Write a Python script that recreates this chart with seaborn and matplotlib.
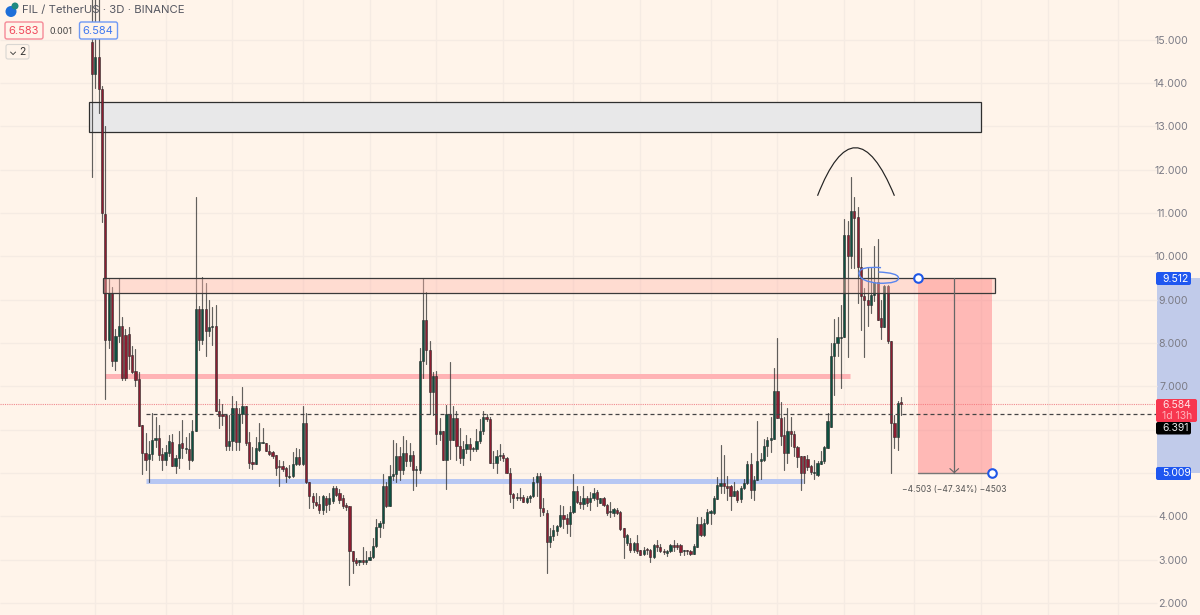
import matplotlib
matplotlib.use("Agg")
import matplotlib.pyplot as plt
import pandas as pd
import seaborn as sns
from matplotlib.patches import Circle, FancyBboxPatch, PathPatch, Rectangle
from matplotlib.path import Path
from matplotlib.transforms import Affine2D

BG = "#fff4ea"
RED = "#8c1d31"
GREEN = "#0e5040"

opens = [
    14.96, 14.21, 14.61, 13.86, 10.99, 8.08, 9.15, 7.59, 8.17, 8.4,
    8.19, 8.21, 7.73, 7.36, 7.17, 6.1, 5.46, 5.33, 5.44, 5.77,
    5.8, 5.44, 5.3, 5.46, 5.71, 5.17, 5.35, 5.69, 5.56, 5.55,
    5.3, 5.96, 8.78, 8.06, 8.78, 8.27, 8.37, 8.4, 6.44, 6.36,
    6.34, 5.62, 5.73, 6.5, 5.71, 6.37, 6.55, 5.71, 5.25, 5.2,
    5.53, 5.69, 5.68, 5.51, 5.48, 5.42, 5.17, 5.17, 5.11, 4.9,
    4.92, 5.2, 5.37, 5.2, 6.15, 4.78, 4.46, 4.32, 4.29, 4.15,
    4.42, 4.29, 4.35, 4.65, 4.54, 4.42, 4.27, 4.23, 3.19, 2.98,
    2.94, 2.98, 2.94, 3.0, 3.07, 3.32, 3.75, 3.84, 4.69, 4.23,
    4.94, 4.98, 5.38, 5.07, 5.46, 5.28, 5.42, 5.06, 5.07, 7.59,
    8.52, 7.83, 6.88, 7.23, 5.9, 5.96, 5.29, 6.37, 5.77, 6.27,
    5.63, 5.34, 5.55, 5.66, 5.55, 5.55, 5.74, 5.96, 6.3, 6.25,
    5.23, 5.23, 5.38, 5.42, 5.34, 5.01, 4.52, 4.42, 4.44, 4.44,
    4.34, 4.42, 4.46, 4.8, 4.94, 4.19, 4.07, 3.4, 3.54, 3.67,
    3.78, 4.04, 3.96, 3.82, 4.1, 4.59, 4.32, 4.29, 4.42, 4.32,
    4.41, 4.56, 4.3, 4.42, 4.27, 4.09, 4.07, 4.15, 4.1, 3.74,
    3.38, 3.38, 3.21, 3.38, 3.21, 3.13, 3.24, 3.23, 3.06, 3.34,
    3.3, 3.2, 3.15, 3.19, 3.34, 3.33, 3.33, 3.19, 3.21, 3.2,
    3.13, 3.3, 3.83, 3.57, 3.84, 4.07, 4.07, 4.4, 4.71, 4.77,
    4.71, 4.69, 4.46, 4.59, 4.4, 4.65, 4.77, 5.21, 4.6, 4.84,
    5.27, 5.3, 5.63, 5.75, 5.78, 6.9, 6.26, 5.88, 5.47, 5.96,
    5.9, 5.6, 5.38, 5.38, 5.32, 5.15, 5.0, 4.96, 5.21, 5.27,
    5.57, 6.06, 7.71, 8.0, 8.11, 8.15, 10.5, 10.02, 11.05, 10.9,
    9.75, 9.08, 9.0, 8.88, 9.11, 9.42, 8.58, 8.37, 9.31, 8.04,
    6.15, 5.83, 6.63,
]
closes = [
    14.21, 14.61, 13.86, 11.0, 8.08, 9.15, 7.59, 8.17, 8.4, 7.2,
    7.2, 7.7, 7.33, 7.15, 6.08, 5.46, 5.3, 5.44, 5.77, 5.8,
    5.42, 5.3, 5.48, 5.73, 5.17, 5.35, 5.67, 5.57, 5.58, 5.3,
    5.96, 8.78, 8.08, 8.78, 8.27, 8.37, 8.4, 6.44, 6.32, 6.32,
    5.62, 5.73, 6.5, 5.71, 6.37, 6.55, 5.69, 5.24, 5.2, 5.57,
    5.71, 5.71, 5.5, 5.44, 5.4, 5.11, 5.13, 5.09, 4.92, 4.94,
    5.2, 5.37, 5.2, 6.15, 4.78, 4.46, 4.32, 4.27, 4.15, 4.46,
    4.27, 4.42, 4.65, 4.5, 4.38, 4.24, 4.21, 3.19, 2.96, 2.92,
    2.98, 2.94, 3.0, 3.07, 3.32, 3.75, 3.84, 4.69, 4.23, 4.94,
    4.98, 5.38, 5.07, 5.46, 5.28, 5.42, 5.07, 5.09, 7.59, 8.52,
    7.83, 6.88, 7.24, 5.9, 5.96, 5.29, 6.37, 5.77, 6.27, 5.63,
    5.34, 5.55, 5.66, 5.55, 5.58, 5.74, 5.96, 6.3, 6.24, 5.23,
    5.24, 5.38, 5.42, 5.34, 5.0, 4.52, 4.42, 4.44, 4.42, 4.34,
    4.42, 4.47, 4.8, 4.94, 4.19, 4.09, 3.4, 3.54, 3.69, 3.78,
    4.04, 3.94, 3.82, 4.1, 4.59, 4.32, 4.29, 4.42, 4.3, 4.43,
    4.54, 4.4, 4.42, 4.27, 4.08, 4.11, 4.16, 4.07, 3.71, 3.53,
    3.56, 3.21, 3.38, 3.19, 3.11, 3.23, 3.21, 3.06, 3.34, 3.3,
    3.19, 3.18, 3.19, 3.34, 3.28, 3.28, 3.17, 3.21, 3.19, 3.13,
    3.32, 3.83, 3.57, 3.84, 4.09, 4.11, 4.42, 4.73, 4.77, 4.71,
    4.66, 4.46, 4.59, 4.38, 4.66, 4.77, 5.21, 4.6, 4.84, 5.27,
    5.32, 5.63, 5.75, 5.8, 6.9, 6.26, 5.86, 5.47, 5.96, 5.9,
    5.6, 5.36, 5.0, 5.0, 5.13, 5.02, 5.02, 5.23, 5.28, 5.59,
    6.2, 7.7, 8.0, 8.13, 8.15, 10.5, 10.02, 11.05, 10.88, 9.75,
    9.08, 9.0, 8.88, 9.11, 9.42, 8.54, 8.38, 9.31, 8.04, 6.15,
    5.83, 6.62, 6.584,
]
highs = [
    16.5, 16.2, 16.1, 13.94, 13.0, 9.47, 9.3, 8.33, 9.5, 8.6,
    8.32, 8.36, 7.92, 7.87, 7.33, 6.1, 5.92, 5.73, 6.38, 6.3,
    6.11, 5.57, 5.65, 5.88, 5.9, 5.42, 5.96, 6.23, 5.84, 5.92,
    6.23, 11.38, 8.85, 9.53, 9.38, 9.0, 8.83, 8.88, 6.7, 6.6,
    6.34, 6.34, 6.78, 6.65, 6.5, 6.98, 6.55, 5.94, 5.61, 5.84,
    6.15, 6.04, 5.69, 5.65, 5.5, 5.42, 5.3, 5.27, 5.14, 5.19,
    5.48, 5.58, 5.55, 6.55, 6.38, 4.78, 4.54, 4.54, 4.46, 4.5,
    4.46, 4.54, 4.69, 4.71, 4.63, 4.5, 4.3, 4.23, 3.19, 3.03,
    3.0, 3.3, 3.19, 3.19, 3.5, 3.94, 3.88, 4.98, 4.8, 5.19,
    5.77, 5.69, 5.61, 5.86, 5.77, 5.7, 5.51, 5.15, 7.88, 9.5,
    9.17, 8.04, 7.34, 7.36, 6.27, 5.96, 6.57, 7.57, 6.55, 6.44,
    6.04, 5.73, 5.88, 5.8, 5.61, 6.01, 6.24, 6.42, 6.37, 6.3,
    5.5, 5.54, 5.67, 5.46, 5.36, 5.11, 4.54, 4.54, 4.65, 4.5,
    4.46, 4.5, 4.9, 5.01, 5.0, 4.42, 4.15, 3.73, 3.8, 3.8,
    4.27, 4.24, 4.06, 4.24, 4.98, 4.69, 4.46, 4.71, 4.46, 4.57,
    4.65, 4.61, 4.42, 4.44, 4.29, 4.34, 4.2, 4.2, 4.12, 3.74,
    3.58, 3.5, 3.4, 3.57, 3.23, 3.3, 3.26, 3.24, 3.36, 3.45,
    3.36, 3.25, 3.22, 3.36, 3.45, 3.38, 3.36, 3.23, 3.23, 3.22,
    3.36, 3.99, 3.98, 3.93, 4.17, 4.15, 4.47, 4.9, 5.65, 5.42,
    4.92, 4.73, 4.8, 4.61, 4.71, 4.86, 5.27, 5.46, 4.92, 6.19,
    5.46, 5.78, 5.84, 6.3, 7.43, 8.11, 6.63, 6.3, 6.5, 6.3,
    5.96, 5.63, 5.39, 5.38, 5.42, 5.19, 5.3, 5.27, 5.51, 5.63,
    6.38, 8.0, 8.55, 8.61, 8.87, 10.87, 10.81, 11.84, 11.38, 11.15,
    10.2, 9.27, 9.73, 9.73, 10.24, 10.4, 9.0, 9.35, 9.35, 8.04,
    6.34, 6.65, 6.75,
]
lows = [
    11.84, 13.88, 13.3, 10.8, 6.71, 7.88, 7.47, 7.38, 8.02, 7.15,
    7.15, 7.4, 7.3, 7.0, 6.08, 4.98, 5.07, 4.8, 5.3, 5.61,
    5.3, 5.07, 5.19, 5.38, 5.15, 5.0, 5.11, 5.34, 5.46, 5.09,
    5.27, 5.96, 7.84, 7.98, 7.7, 8.17, 7.96, 6.42, 6.04, 6.11,
    5.54, 5.54, 5.52, 5.54, 5.52, 6.15, 5.65, 5.11, 5.09, 5.2,
    5.5, 5.69, 5.5, 5.42, 5.34, 4.96, 4.7, 5.04, 4.8, 4.88,
    4.9, 5.19, 5.19, 5.19, 4.77, 4.19, 4.19, 4.23, 4.07, 4.05,
    4.1, 4.15, 4.3, 4.46, 4.3, 4.19, 4.15, 2.42, 2.69, 2.88,
    2.88, 2.9, 2.9, 2.98, 3.03, 3.29, 3.52, 3.73, 4.21, 4.23,
    4.84, 4.8, 4.84, 4.98, 5.15, 5.15, 4.61, 4.69, 5.0, 7.19,
    7.52, 6.37, 6.34, 5.67, 5.76, 5.29, 4.63, 5.32, 5.77, 5.29,
    5.24, 5.19, 5.46, 5.3, 5.5, 5.5, 5.7, 5.9, 6.19, 5.23,
    5.11, 5.01, 5.3, 5.27, 5.0, 4.34, 4.19, 4.37, 4.37, 4.32,
    4.3, 4.34, 4.44, 4.46, 4.0, 4.04, 2.69, 3.29, 3.46, 3.57,
    3.75, 3.73, 3.61, 3.55, 4.07, 4.3, 4.19, 4.17, 4.23, 4.15,
    4.38, 4.24, 4.3, 4.24, 4.04, 3.99, 4.0, 4.05, 3.69, 3.03,
    3.33, 3.18, 3.18, 3.15, 3.1, 3.11, 3.13, 2.94, 3.04, 3.2,
    3.17, 3.12, 3.08, 3.17, 3.2, 3.25, 3.1, 3.1, 3.12, 3.1,
    3.12, 3.3, 3.55, 3.55, 3.82, 3.82, 4.05, 4.4, 4.53, 4.53,
    4.38, 4.15, 4.46, 4.34, 4.33, 4.63, 4.75, 4.42, 4.38, 4.83,
    4.86, 5.27, 5.38, 5.48, 5.78, 6.26, 5.65, 5.06, 5.24, 5.63,
    5.38, 5.13, 4.61, 4.77, 5.07, 4.98, 4.86, 4.93, 5.21, 5.23,
    5.57, 6.06, 6.81, 7.69, 6.96, 8.15, 7.67, 9.73, 9.73, 8.92,
    8.29, 7.67, 8.4, 8.69, 8.96, 8.54, 8.09, 8.37, 8.0, 5.0,
    5.58, 5.52, 6.34,
]

# 6.000 and 5.000 sit under the price tags
y_ticks = [15, 14, 13, 12, 11, 10, 9, 8, 7, 6, 5, 4, 3, 2]
y_labels = ["15.000", "14.000", "13.000", "12.000", "11.000", "10.000", "9.000",
            "8.000", "7.000", "", "", "4.000", "3.000", "2.000"]
grid_candles = [1, 22, 42, 63, 83, 103, 123, 144, 164, 185, 205, 225, 246, 266, 286, 307]

last_price = 6.584
dashed_level = 6.365
red_level = 7.24
blue_level = 4.82
entry_price = 9.512
target_price = 5.009

LEFT, RIGHT = -27.52, 331.4
SCALE_EDGE = 318.5

sns.set_theme(style="white", rc={"axes.facecolor": BG, "figure.facecolor": BG})
plt.rcParams["font.family"] = ["Inter", "DejaVu Sans"]

fig = plt.figure(figsize=(12, 6.15), dpi=100)
ax = fig.add_axes([0, 0, 1, 1])

# pixels from the top left, for the header and tags
px = Affine2D().scale(1, -1).translate(0, 615)

candles = list(range(len(opens)))
wicks = pd.DataFrame({
    "candle": candles + candles,
    "price": highs + lows,
})
bottoms = [min(o, c) for o, c in zip(opens, closes)]
heights = [abs(o - c) for o, c in zip(opens, closes)]
colors = [RED if o > c else GREEN for o, c in zip(opens, closes)]

# grid, stops where the price scale begins
ax.hlines(y_ticks, LEFT, SCALE_EDGE, color="#f5ebe3", lw=1, zorder=0.4)
ax.vlines(grid_candles, 1, 17, color="#f5ebe3", lw=1, zorder=0.4)

# price scale band
ax.add_patch(Rectangle((SCALE_EDGE, target_price), RIGHT - SCALE_EDGE, entry_price - target_price,
                       fc="#c1cbea", ec="none", zorder=0.3))

sns.lineplot(data=wicks, x="candle", y="price", units="candle", estimator=None, sort=False,
             color="#2e2e2e", lw=0.85, alpha=0.75, ax=ax, zorder=2, legend=False)
ax.bar(candles, heights, bottom=bottoms, width=0.66, color=colors, edgecolor="#2b2b2b",
       linewidth=0.4, zorder=3)

# zones
ax.add_patch(Rectangle((-0.9, 12.88), 266.9, 0.69, fc="#e8e8e9", ec="#2f2f2f", lw=0.9, zorder=1.5))
ax.add_patch(Rectangle((3.3, 9.16), 266.8, 0.33, fc=(1, 0.72, 0.68, 0.4), ec="#3a3a3a", lw=0.9, zorder=4))
ax.plot([3.9, 226.7], [red_level, red_level], color="#ffb3b5", lw=3.6, solid_capstyle="butt", zorder=1.5)
ax.plot([16.2, 212.7], [blue_level, blue_level], color="#b7c7f3", lw=3.6, solid_capstyle="butt", zorder=1.5)

# price lines
ax.plot([LEFT, SCALE_EDGE], [last_price, last_price], color="#f08a8f", lw=0.8, ls=(0, (1, 1)), zorder=1.6)
ax.plot([16.2, SCALE_EDGE], [dashed_level, dashed_level], color="#444444", lw=0.9, ls=(0, (3.2, 2.4)), zorder=5)

# short position tool
ax.add_patch(Rectangle((247.1, target_price), 22.1, entry_price - target_price,
                       fc=(1, 0.45, 0.47, 0.45), ec="none", zorder=3.5))
ax.plot([247.1, 269.2], [target_price, target_price], color="#777777", lw=1, zorder=5)
ax.plot([257.9, 257.9], [entry_price, target_price], color="#666666", lw=0.9, zorder=5)
ax.plot([256.6, 257.9, 259.2], [5.1, target_price, 5.1], color="#666666", lw=0.8, zorder=5)
ax.scatter([247.1, 269.2], [entry_price, target_price], s=38, fc="white", ec="#1f57e7", lw=1.5, zorder=6)
ax.text(257.9, 4.62, "\u22124.503 (\u221247.34%) \u22124503", ha="center", va="center",
        fontsize=6.1, color="#555555")

# arc over the top
arc = Path([(217, 11.4), (228.2, 13.62), (240, 11.4)], [Path.MOVETO, Path.CURVE3, Path.CURVE3])
ax.add_patch(PathPatch(arc, fc="none", ec="#222222", lw=0.85, zorder=5))

# loop around the retest
loop = Path(
    [(236, 9.74), (229.5, 9.78), (229.4, 9.61), (229.6, 9.42), (235.2, 9.38),
     (241.5, 9.37), (241.2, 9.51), (241, 9.62), (235.2, 9.64)],
    [Path.MOVETO] + [Path.CURVE3] * 8,
)
ax.add_patch(PathPatch(loop, fc="none", ec="#5a86ee", lw=1.0, zorder=5))

ax.set_xlim(LEFT, RIGHT)
ax.set_ylim(1.72, 15.92)
ax.set_xticks([])
ax.set_xlabel("")
ax.set_ylabel("")
ax.yaxis.tick_right()
ax.set_yticks(y_ticks)
ax.set_yticklabels(y_labels, ha="right")
ax.tick_params(axis="y", length=0, pad=-8.6, labelsize=7.6, labelcolor="#7b7b85")
sns.despine(ax=ax, left=True, right=True, top=True, bottom=True)


def px_box(x0, y0, x1, y1, fc, ec="none", lw=0, z=8):
    box = FancyBboxPatch((x0, y0), x1 - x0, y1 - y0, boxstyle="round,pad=0,rounding_size=2",
                         fc=fc, ec=ec, lw=lw, transform=px, zorder=z, clip_on=False)
    ax.add_patch(box)


def px_text(x, y, label, size, color, ha="left", z=9):
    ax.text(x, y, label, transform=px, ha=ha, va="center", fontsize=size, color=color, zorder=z)


# tags on the price scale
px_box(1156, 272, 1191, 285, "#1f57f0")
px_text(1162, 278.5, "9.512", 7.5, "#ffffff")
px_box(1156, 467, 1191, 480, "#1f57f0")
px_text(1162, 473.5, "5.009", 7.5, "#ffffff")
px_box(1156, 422, 1191, 434.5, "#000000")
px_text(1162, 428, "6.391", 7.5, "#e8e8e8")
px_box(1156, 399, 1197, 422, "#f7374f")
px_text(1162, 405, "6.584", 7.5, "#ffe3e6")
px_text(1162, 416, "1d 13h", 7.5, "#ffb3bb")

# header
ax.add_patch(Circle((11, 11.5), 5.5, fc="#1e6fd9", ec="none", transform=px, zorder=9))
ax.add_patch(Circle((15, 6), 3.5, fc="#1f8a80", ec="none", transform=px, zorder=9))
px_text(22, 9.5, "FIL / TetherUS \u00b7 3D \u00b7 BINANCE", 8.2, "#555761")
px_box(5, 22, 43, 39, BG, ec="#f58a97", lw=1)
px_text(24, 31, "6.583", 8, "#f0475b", ha="center")
px_text(61, 31, "0.001", 6.4, "#444444", ha="center")
px_box(79.5, 22, 117.5, 39, BG, ec="#6f99f5", lw=1)
px_text(98, 31, "6.584", 8, "#3f77f0", ha="center")
px_box(6, 44.5, 29, 59, BG, ec="#d9d6d2", lw=0.8)
px_text(17.5, 52, "\u2304 2", 7.5, "#333333", ha="center")

fig.savefig("out.png", dpi=100, facecolor=BG)
